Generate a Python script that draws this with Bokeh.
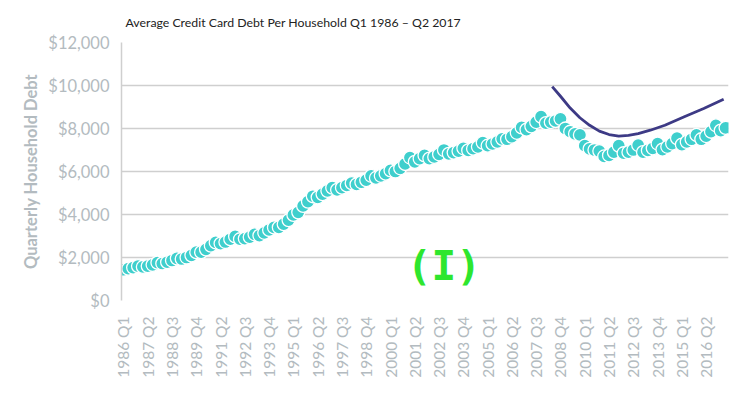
import math
from bokeh.plotting import figure
from bokeh.models import Range1d, FixedTicker, NumeralTickFormatter, Label, Title, ColumnDataSource
from bokeh.embed import file_html
from bokeh.resources import INLINE

# Average credit card debt per household, quarterly, 1986 Q1 - 2017 Q2 (USD)
# (the source series has no 1991 Q1 observation)
years = list(range(1986, 2018))
missing_quarter = "1991 Q1"
debt = [
    1430, 1480, 1530, 1600,   # 1986
    1560, 1600, 1660, 1760,   # 1987
    1720, 1780, 1860, 1960,   # 1988
    1930, 2000, 2100, 2250,   # 1989
    2250, 2380, 2550, 2700,   # 1990
    2650, 2720, 2850, 2980,   # 1991/1992 ...
    2850, 2880, 2950, 3080,
    3020, 3150, 3280, 3400,
    3400, 3550, 3740, 3980,
    4100, 4400, 4600, 4850,
    4800, 4950, 5100, 5250,
    5150, 5250, 5350, 5460,
    5400, 5500, 5600, 5800,
    5700, 5800, 5900, 6050,
    6000, 6150, 6350, 6650,
    6450, 6600, 6750,
    6600, 6680, 6800, 7000,
    6820, 6880, 6950, 7080,
    6980, 7060, 7150, 7340,
    7200, 7280, 7380, 7520,
    7500, 7620, 7800, 8050,
    7950, 8100, 8300, 8550,
    8250, 8300, 8350, 8450,
    8000, 7850, 7750, 7700,
    7200, 7050, 7000, 6950,
    6700, 6750, 6900, 7200,
    6850, 6900, 7000, 7230,
    6900, 6980, 7080, 7300,
    7020, 7150, 7300, 7550,
    7250, 7380, 7500, 7700,
    7500, 7650, 7850, 8150,
    7900, 8030,
]
all_quarters = [f"{y} Q{q}" for y in years for q in (1, 2, 3, 4)]
quarter_labels = [q for q in all_quarters if q != missing_quarter][:len(debt)]
quarter_index = list(range(len(debt)))

# hand-drawn trend curve (position, USD)
curve_q = [88.3, 90.0, 92.0, 94.0, 96.0, 98.0, 100.0, 102.0, 104.0, 106.0, 108.5, 111.5, 115.5, 119.5, 123.6]
curve_v = [9950, 9500, 8950, 8500, 8150, 7880, 7720, 7650, 7680, 7760, 7920, 8150, 8550, 8930, 9360]

y_ticks = [0, 2000, 4000, 6000, 8000, 10000, 12000]
x_tick_step = 5

grey_txt = "#b3bbc0"
grid_col = "#cfcfcf"

p = figure(width=741, height=397, output_backend="svg", toolbar_location=None,
           x_range=Range1d(-0.4, 124.6), y_range=Range1d(0, 12000),
           min_border_left=121, min_border_right=13, min_border_top=42, min_border_bottom=97)
p.outline_line_color = None
p.background_fill_color = "white"

t = Title(text="Average Credit Card Debt Per Household Q1 1986 \u2013 Q2 2017",
          align="left", offset=4, text_font="Lato", text_font_size="12.3px",
          text_font_style="normal", text_color="#222222", standoff=25)
p.add_layout(t, "above")

src = ColumnDataSource(dict(q=quarter_index, v=debt))
p.scatter("q", "v", source=src, size=13, fill_color="#3fcfcd", line_color="white", line_width=1.3)
p.line(curve_q, curve_v, line_color="#3d3a85", line_width=2.8)

# y axis
p.yaxis.ticker = FixedTicker(ticks=y_ticks)
p.yaxis.formatter = NumeralTickFormatter(format="$0,0")
p.yaxis.major_label_text_font = "Lato"
p.yaxis.major_label_text_font_size = "16.5px"
p.yaxis.major_label_text_color = grey_txt
p.yaxis.major_tick_line_color = None
p.yaxis.minor_tick_line_color = None
p.yaxis.axis_line_color = grid_col
p.yaxis.axis_line_width = 1.5
p.yaxis.major_label_standoff = 6
p.yaxis.axis_label = "Quarterly Household Debt"
p.yaxis.axis_label_text_font = "Lato"
p.yaxis.axis_label_text_font_size = "16.5px"
p.yaxis.axis_label_text_font_style = "bold"
p.yaxis.axis_label_text_color = grey_txt
p.yaxis.axis_label_standoff = 4

# x axis
p.xaxis.ticker = FixedTicker(ticks=quarter_index[::x_tick_step])
p.xaxis.major_label_overrides = {i: quarter_labels[i] for i in quarter_index[::x_tick_step]}
p.xaxis.major_label_orientation = math.pi / 2
p.xaxis.major_label_text_font = "Lato"
p.xaxis.major_label_text_font_size = "15.5px"
p.xaxis.major_label_text_color = grey_txt
p.xaxis.major_tick_line_color = None
p.xaxis.minor_tick_line_color = None
p.xaxis.axis_line_color = None
p.xaxis.major_label_standoff = 10

p.xgrid.grid_line_color = None
p.ygrid.grid_line_color = grid_col
p.ygrid.grid_line_width = 1.5

mark = Label(x=66.0, y=1600, text="(I)", text_font="DejaVu Sans Mono", text_font_style="bold",
             text_font_size="41px", text_color="#2ee62e", text_align="center", text_baseline="middle")
p.add_layout(mark)

open("out.html", "w").write(file_html(p, INLINE))
